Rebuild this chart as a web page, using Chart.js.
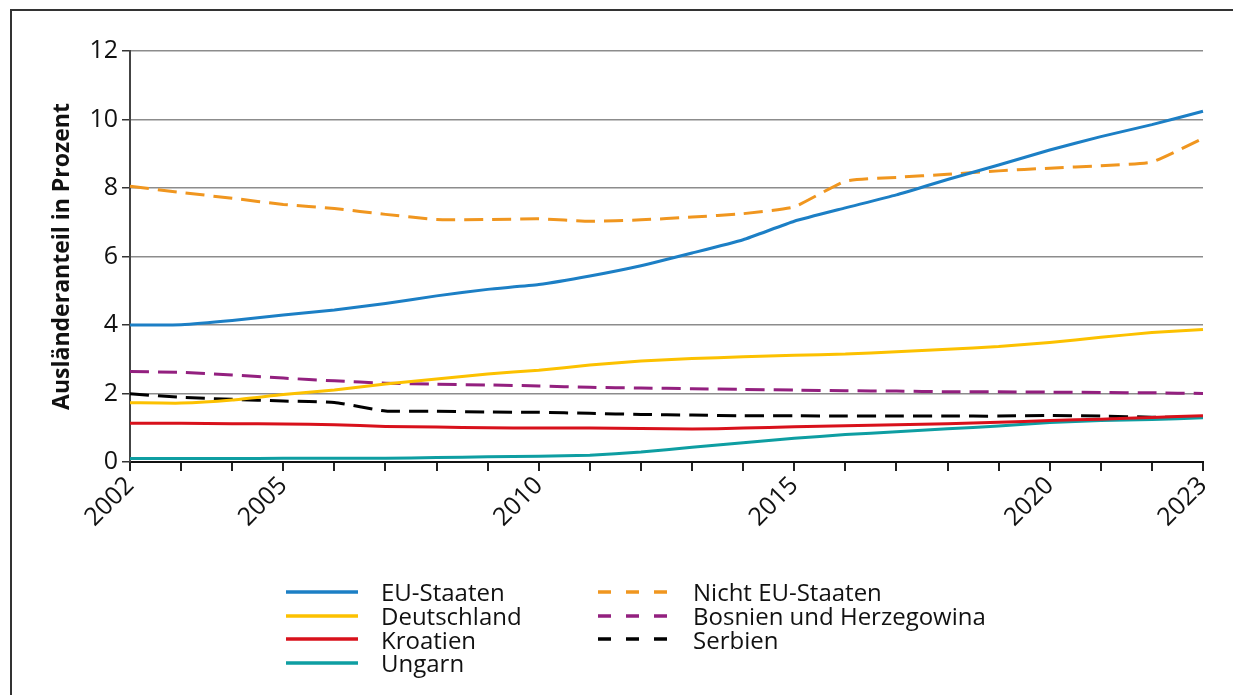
<!DOCTYPE html>
<html>
<head>
<meta charset="utf-8">
<script src="https://cdn.jsdelivr.net/npm/chart.js@4"></script>
<style>
  body { margin: 0; background: #fff; }
  #wrap { position: relative; width: 1233px; height: 695px; overflow: hidden; }
  #frame { position: absolute; left: 10px; top: 9px; right: -5px; bottom: -5px;
           border-left: 2px solid #333; border-top: 2px solid #333; }
  #chart { position: absolute; left: 0; top: 0; }
  #legend { position: absolute; left: 286px; top: 580px; display: grid;
            grid-template-rows: repeat(4, 23.7px); grid-auto-flow: column;
            grid-template-columns: 312px auto;
            font: 24px "Open Sans", sans-serif; color: #111; }
  .item { display: flex; align-items: center; height: 23.7px; white-space: nowrap; }
  .item svg { margin-right: 23px; }
</style>
</head>
<body>
<div id="wrap">
  <div id="frame"></div>
  <canvas id="chart" width="1233" height="695"></canvas>
  <div id="legend"></div>
</div>
<script>
const years = ["2002","2003","2004","2005","2006","2007","2008","2009","2010","2011","2012",
               "2013","2014","2015","2016","2017","2018","2019","2020","2021","2022","2023"];
const shownYears = ["2002","2005","2010","2015","2020","2023"];

const euStaaten    = [4.0, 4.01, 4.13, 4.29, 4.44, 4.63, 4.85, 5.04, 5.18, 5.43, 5.73, 6.1, 6.49, 7.03, 7.42, 7.8, 8.25, 8.67, 9.11, 9.5, 9.85, 10.24];
const deutschland  = [1.73, 1.72, 1.81, 1.97, 2.1, 2.28, 2.42, 2.57, 2.68, 2.83, 2.95, 3.02, 3.07, 3.12, 3.15, 3.22, 3.29, 3.37, 3.49, 3.64, 3.78, 3.87];
const kroatien     = [1.13, 1.13, 1.12, 1.11, 1.09, 1.04, 1.02, 1.0, 0.99, 0.99, 0.98, 0.96, 0.99, 1.03, 1.06, 1.09, 1.12, 1.16, 1.21, 1.25, 1.3, 1.35];
const ungarn       = [0.1, 0.1, 0.1, 0.11, 0.11, 0.11, 0.13, 0.15, 0.17, 0.2, 0.29, 0.43, 0.56, 0.69, 0.8, 0.88, 0.97, 1.05, 1.15, 1.21, 1.24, 1.29];
const nichtEU      = [8.05, 7.87, 7.7, 7.52, 7.4, 7.23, 7.08, 7.08, 7.1, 7.03, 7.07, 7.15, 7.25, 7.45, 8.2, 8.31, 8.4, 8.5, 8.58, 8.65, 8.76, 9.45];
const bosnien      = [2.64, 2.62, 2.54, 2.45, 2.37, 2.3, 2.27, 2.25, 2.22, 2.18, 2.16, 2.14, 2.12, 2.1, 2.08, 2.07, 2.05, 2.05, 2.04, 2.03, 2.02, 2.0];
const serbien      = [1.99, 1.89, 1.83, 1.78, 1.74, 1.49, 1.48, 1.46, 1.45, 1.42, 1.39, 1.37, 1.35, 1.35, 1.34, 1.34, 1.34, 1.34, 1.36, 1.34, 1.31, 1.3];

const yTicks = [0, 2, 4, 6, 8, 10, 12];

const FONT = '"Open Sans", sans-serif';

function line(label, data, color, dashed) {
    return {
        label: label,
        data: data,
        borderColor: color,
        backgroundColor: color,
        borderWidth: 3,
        borderDash: dashed ? [19, 9] : [],
        pointRadius: 0,
        tension: 0.15,
        fill: false
    };
}

const datasets = [
    line("EU-Staaten", euStaaten, "#1c7fc5", false),
    line("Deutschland", deutschland, "#fcc100", false),
    line("Kroatien", kroatien, "#d8111b", false),
    line("Ungarn", ungarn, "#0e9ea2", false),
    line("Nicht EU-Staaten", nichtEU, "#f0961f", true),
    line("Bosnien und Herzegowina", bosnien, "#93207f", true),
    line("Serbien", serbien, "#000000", true)
];

const ctx = document.getElementById("chart").getContext("2d");

const chart = new Chart(ctx, {
    type: "line",
    data: { labels: years, datasets: datasets },
    options: {
        responsive: false,
        animation: false,
        layout: { padding: { left: 40, right: 30, top: 51, bottom: 0 } },
        plugins: {
            legend: { display: false },
            tooltip: { enabled: false }
        },
        scales: {
            x: {
                type: "category",
                offset: false,
                afterFit: s => { s.height = 233; },
                border: { color: "#111", width: 2 },
                grid: { drawOnChartArea: false, drawTicks: true, tickLength: 9, color: "#222", lineWidth: 2 },
                ticks: {
                    autoSkip: false,
                    minRotation: 45,
                    maxRotation: 45,
                    color: "#111",
                    font: { family: FONT, size: 25 },
                    padding: 0,
                    callback: function (v, i) {
                        const y = years[i];
                        return shownYears.includes(y) ? y : "";
                    }
                }
            },
            y: {
                min: 0,
                max: 12,
                afterFit: s => { s.width = 90; },
                afterBuildTicks: s => { s.ticks = yTicks.map(v => ({ value: v })); },
                border: { color: "#444", width: 2 },
                grid: { color: "#8c8c8c", lineWidth: 1.5, tickLength: 8, tickColor: "#333" },
                ticks: {
                    color: "#111",
                    font: { family: FONT, size: 25 },
                    padding: 4
                },
                title: {
                    display: true,
                    text: "Ausländeranteil in Prozent",
                    color: "#111",
                    font: { family: FONT, size: 23, weight: "bold" },
                    padding: { top: 9, bottom: 0 }
                }
            }
        }
    }
});

// legend in two columns, built from the chart datasets
const legendEl = document.getElementById("legend");
chart.data.datasets.forEach(ds => {
    const dash = ds.borderDash.length ? 'stroke-dasharray="13 15"' : "";
    const item = document.createElement("div");
    item.className = "item";
    item.innerHTML =
        '<svg width="72" height="6"><line x1="0" y1="3" x2="72" y2="3" stroke="' +
        ds.borderColor + '" stroke-width="3.5" ' + dash + '/></svg><span>' + ds.label + '</span>';
    legendEl.appendChild(item);
});
</script>
</body>
</html>
